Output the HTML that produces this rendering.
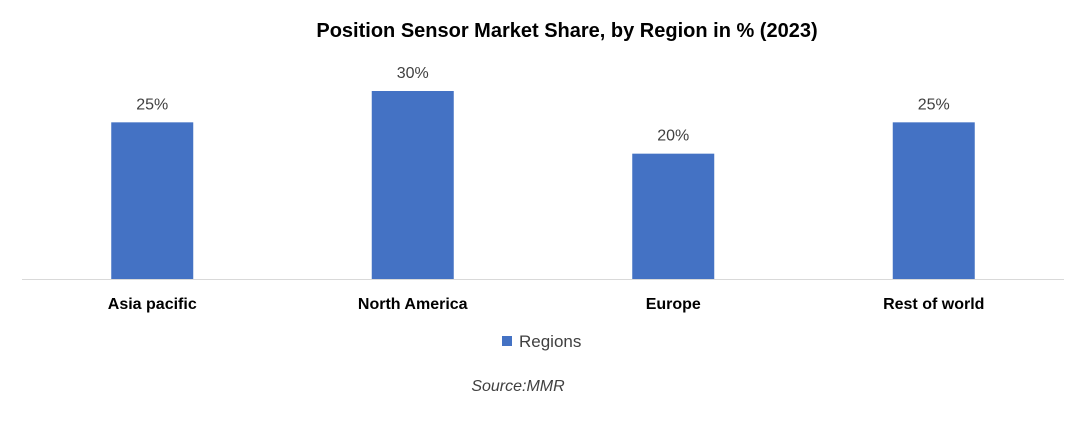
<!DOCTYPE html>
<html><head><meta charset="utf-8"><style>
body{margin:0;background:#fff;width:1090px;height:419px;overflow:hidden;font-family:"Liberation Sans",sans-serif}
</style></head><body>
<svg id="c" width="1090" height="419">
<text x="567" y="37" text-anchor="middle" font-size="20" font-weight="bold" fill="#000">Position Sensor Market Share, by Region in % (2023)</text>
<line x1="22" y1="279.5" x2="1064" y2="279.5" stroke="#d9d9d9"/>
<g id="bars"></g>
<rect x="502" y="336" width="10" height="10" fill="#4472c4"/>
<text x="519" y="347" font-size="17" fill="#404040">Regions</text>
<text x="518" y="391" text-anchor="middle" font-size="16" font-style="italic" fill="#404040">Source:MMR</text>
</svg>
<script>
const categories=["Asia pacific","North America","Europe","Rest of world"];
const values=[25,30,20,25];
const valueLabels=["25%","30%","20%","25%"];
const x0=22,x1=1064,base=279,pxPer=188/30;
const bw=(x1-x0)/categories.length;
const xs=i=>x0+bw*(i+0.5);
const ys=v=>base-v*pxPer;
const g=document.getElementById('bars');
const ns="http://www.w3.org/2000/svg";
categories.forEach((c,i)=>{
 const r=document.createElementNS(ns,'rect');
 r.setAttribute('x',xs(i)-41);r.setAttribute('width',82);
 r.setAttribute('y',ys(values[i]));r.setAttribute('height',base-ys(values[i]));
 r.setAttribute('fill','#4472c4');
 
 
 g.appendChild(r);
 const t=document.createElementNS(ns,'text');
 t.setAttribute('x',xs(i));t.setAttribute('y',ys(values[i])-13);
 t.setAttribute('text-anchor','middle');t.setAttribute('font-size','16');t.setAttribute('fill','#404040');
 t.textContent=valueLabels[i];
 
 
 g.appendChild(t);
 const l=document.createElementNS(ns,'text');
 l.setAttribute('x',xs(i));l.setAttribute('y',309);
 l.setAttribute('text-anchor','middle');l.setAttribute('font-size','16');l.setAttribute('font-weight','bold');l.setAttribute('fill','#000');
 l.textContent=c;
 
 
 g.appendChild(l);
});
</script>
</body></html>
